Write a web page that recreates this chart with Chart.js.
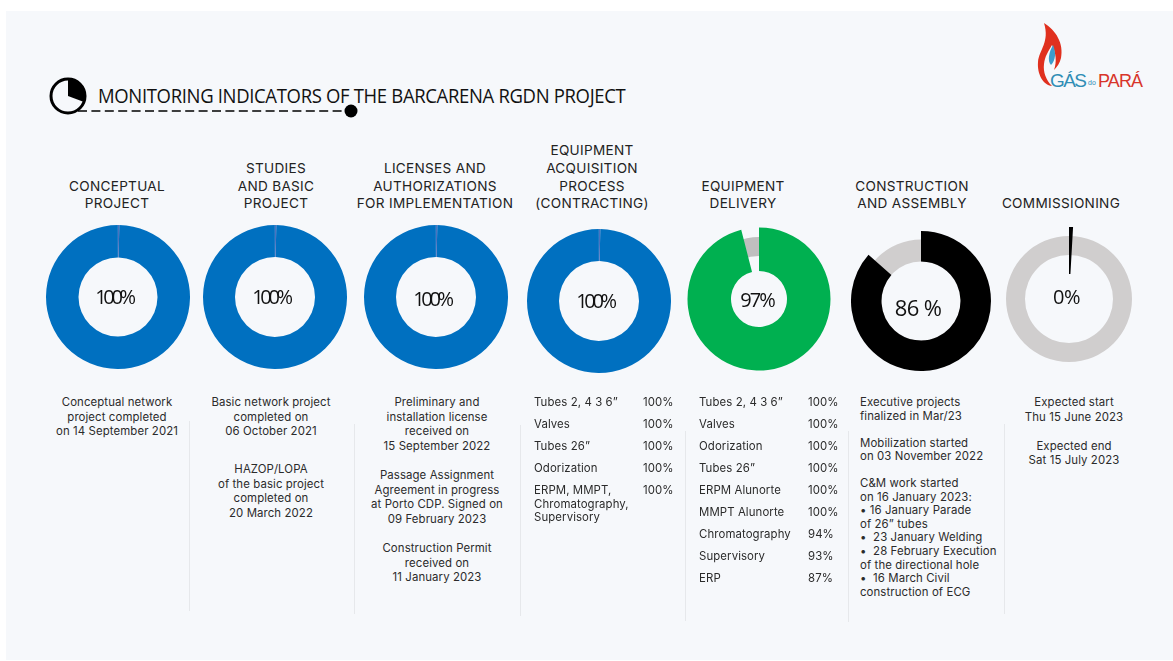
<!DOCTYPE html>
<html>
<head>
<meta charset="utf-8">
<title>Monitoring indicators</title>
<script src="https://cdn.jsdelivr.net/npm/chart.js@4"></script>
<style>
  html, body { margin: 0; padding: 0; background: #fff; }
  #page { position: relative; width: 1173px; height: 661px; overflow: hidden; }
  #panel { position: absolute; left: 6px; top: 11px; width: 1167px; height: 649px; background: #f6f8fb; }
  #page canvas { position: absolute; }
  .title { position: absolute; left: 98px; top: 83px; font: 19.5px/26px "Open Sans", sans-serif; color: #111; white-space: nowrap; letter-spacing: -0.35px; transform: scaleX(0.948); transform-origin: left center; }
  .head { position: absolute; width: 200px; bottom: 448px; text-align: center; font: 13.6px/17.7px Inter, sans-serif; letter-spacing: 0.3px; color: #222; white-space: pre; }
  .pct { position: absolute; width: 80px; text-align: center; font-family: "Open Sans", sans-serif; color: #111; white-space: nowrap; }
  .note { position: absolute; font: 11.4px/14.6px Inter, sans-serif; letter-spacing: 0.1px; color: #2b2b2b; white-space: pre; }
  .note.center { width: 200px; text-align: center; }
  .row { position: absolute; font: 11.4px/13.6px Inter, sans-serif; letter-spacing: 0.1px; color: #2b2b2b; white-space: pre; }
  .rule { position: absolute; width: 1px; background: #e6e8eb; }
  svg { position: absolute; overflow: visible; }
</style>
</head>
<body>
<div id="page">
  <div id="panel"></div>
  <svg style="left:0;top:0" width="1173" height="661">
    <!-- title icon -->
    <circle cx="68" cy="96" r="17" fill="none" stroke="#000" stroke-width="3"/>
    <path d="M68 79 A17 17 0 0 1 84 102 L68 96 Z" fill="#000"/>
    <line x1="78" y1="111" x2="347" y2="111" stroke="#000" stroke-width="1.4" stroke-dasharray="9 4.4"/>
    <circle cx="351" cy="111" r="6.5" fill="#000"/>
    <!-- logo -->
    <path d="M1044 23 C1056 30 1064 44 1061 58 C1060 63 1057 67 1054 70 C1057 62 1056 53 1052 45 C1048 52 1045 56 1044 64 C1043 72 1046 80 1052 86 C1043 85 1037 74 1038 62 C1039 50 1050 42 1044 23 Z" fill="#e0301e"/>
    <path d="M1053 45 C1056 52 1056 60 1051 65 C1047 61 1049 52 1053 45 Z" fill="#3d9ccb"/>
    <text x="1050" y="87" font-family="Liberation Sans" font-size="19" fill="#2f8db5" textLength="37">GÁS</text>
    <text x="1088" y="85" font-family="Liberation Sans" font-size="7" fill="#2f8db5">do</text>
    <text x="1098" y="87" font-family="Liberation Sans" font-size="18" fill="#d8352a" textLength="45">PARÁ</text>
  </svg>
  <div class="title">MONITORING INDICATORS OF THE BARCARENA RGDN PROJECT</div>
</div>
<script>
// Stage names above each ring
const categories = [
  "CONCEPTUAL\nPROJECT",
  "STUDIES\nAND BASIC\nPROJECT",
  "LICENSES AND\nAUTHORIZATIONS\nFOR IMPLEMENTATION",
  "EQUIPMENT\nACQUISITION\nPROCESS\n(CONTRACTING)",
  "EQUIPMENT\nDELIVERY",
  "CONSTRUCTION\nAND ASSEMBLY",
  "COMMISSIONING",
];
const percentLabels = ["100%", "100%", "100%", "100%", "97%", "86 %", "0%"];

// Arc sizes as drawn in the picture (the 100% rings have a thin seam at the top)
const doneValues = [99.7, 99.7, 99.7, 99.7, 96, 86.5, 0.9];
const restValues = [0.3, 0.3, 0.3, 0.3, 4, 13.5, 99.1];

const notesConceptual = "Conceptual network\nproject completed\non 14 September 2021";
const notesBasic = "Basic network project\ncompleted on\n06 October 2021";
const notesHazop = "HAZOP/LOPA\nof the basic project\ncompleted on\n20 March 2022";
const notesLicenses = "Preliminary and\ninstallation license\nreceived on\n15 September 2022\n\nPassage Assignment\nAgreement in progress\nat Porto CDP. Signed on\n09 February 2023\n\nConstruction Permit\nreceived on\n11 January 2023";
const notesConstruction = "Executive projects\nfinalized in Mar/23\n\nMobilization started\non 03 November 2022\n\nC&M work started\non 16 January 2023:\n• 16 January Parade\nof 26” tubes\n•  23 January Welding\n•  28 February Execution\nof the directional hole\n•  16 March Civil\nconstruction of ECG";
const notesCommissioning = "Expected start\nThu 15 June 2023\n\nExpected end\nSat 15 July 2023";

const acquisitionItems = ["Tubes 2, 4 3 6”", "Valves", "Tubes 26”", "Odorization", "ERPM, MMPT,\nChromatography,\nSupervisory"];
const acquisitionValues = ["100%", "100%", "100%", "100%", "100%"];
const deliveryItems = ["Tubes 2, 4 3 6”", "Valves", "Odorization", "Tubes 26”", "ERPM Alunorte", "MMPT Alunorte", "Chromatography", "Supervisory", "ERP"];
const deliveryValues = ["100%", "100%", "100%", "100%", "100%", "100%", "94%", "93%", "87%"];

document.addEventListener("DOMContentLoaded", function () {
  const page = document.getElementById("page");

  // Layout, one entry per ring
  const centers = [[118, 297], [275, 297], [436, 297], [599, 301], [758.5, 299], [920.5, 301], [1069, 299]];
  const radii = [[72, 39.5], [72, 40], [72, 40], [72, 40], [71.5, 28], [70, 39.5], [72, 25]];
  const rotations = [1, 1, 1, 1, 0, 0, 0];
  const doneColors = ["#0070c0", "#0070c0", "#0070c0", "#0070c0", "#00b050", "#000000", "#000000"];
  const restColors = ["#4a72bf", "#4a72bf", "#4a72bf", "#4a72bf", "rgba(0,0,0,0)", "rgba(0,0,0,0)", "rgba(0,0,0,0)"];
  // Grey track that sits under rings 5, 6 and 7
  const tracks = { 4: [62, 43, "#bfbfbf"], 5: [61.5, 39.5, "#d0cece"], 6: [63, 44, "#d0cece"] };
  const headCenters = [117, 276, 435, 592, 743, 912, 1061];
  const pctSpots = [[114, 297, 20, -3.3], [271, 297, 20, -3.3], [432, 299, 20, -3.3], [595, 301, 20, -3.3], [757, 300, 20, -2], [918, 307, 22, -0.6], [1066.5, 297, 20, -0.5]];

  function makeRing(cx, cy, outer, inner, values, colors, rotation) {
    const canvas = document.createElement("canvas");
    const size = Math.ceil(outer) * 2;
    canvas.width = size;
    canvas.height = size;
    canvas.style.width = size + "px";
    canvas.style.height = size + "px";
    canvas.style.left = cx - size / 2 + "px";
    canvas.style.top = cy - size / 2 + "px";
    page.appendChild(canvas);
    new Chart(canvas.getContext("2d"), {
      type: "doughnut",
      data: {
        datasets: [{ data: values, backgroundColor: colors, borderWidth: 0 }],
      },
      options: {
        responsive: false,
        animation: false,
        rotation: rotation,
        radius: outer,
        cutout: (inner / outer) * 100 + "%",
        plugins: { legend: { display: false }, tooltip: { enabled: false } },
      },
    });
  }

  categories.forEach(function (name, i) {
    const c = centers[i];
    if (tracks[i]) makeRing(c[0], c[1], tracks[i][0], tracks[i][1], [100], [tracks[i][2]], 0);
    makeRing(c[0], c[1], radii[i][0], radii[i][1], [doneValues[i], restValues[i]], [doneColors[i], restColors[i]], rotations[i]);

    const head = document.createElement("div");
    head.className = "head";
    head.textContent = name;
    head.style.left = headCenters[i] - 100 + "px";
    page.appendChild(head);

    const spot = pctSpots[i];
    const pct = document.createElement("div");
    pct.className = "pct";
    pct.textContent = percentLabels[i];
    pct.style.left = spot[0] - 40 + "px";
    pct.style.top = spot[1] - 15 + "px";
    pct.style.fontSize = spot[2] + "px";
    pct.style.lineHeight = "30px";
    pct.style.letterSpacing = spot[3] + "px";
    page.appendChild(pct);
  });

  function addNote(text, x, top, centered, lineHeight) {
    const el = document.createElement("div");
    el.className = centered ? "note center" : "note";
    el.textContent = text;
    el.style.left = (centered ? x - 100 : x) + "px";
    el.style.top = top + "px";
    if (lineHeight) el.style.lineHeight = lineHeight + "px";
    page.appendChild(el);
  }
  addNote(notesConceptual, 117, 395, true);
  addNote(notesBasic, 271, 395, true);
  addNote(notesHazop, 271, 462, true);
  addNote(notesLicenses, 437, 395, true);
  addNote(notesConstruction, 860, 396, false, 13.55);
  addNote(notesCommissioning, 1074, 395, true);

  function addRows(items, values, nameX, valueX) {
    items.forEach(function (item, i) {
      [[item, nameX], [values[i], valueX]].forEach(function (cell) {
        const el = document.createElement("div");
        el.className = "row";
        el.textContent = cell[0];
        el.style.left = cell[1] + "px";
        el.style.top = 396 + i * 22 + "px";
        page.appendChild(el);
      });
    });
  }
  addRows(acquisitionItems, acquisitionValues, 534, 643);
  addRows(deliveryItems, deliveryValues, 699, 808);

  // Vertical dividers between the columns: x, top, bottom
  [[189, 421, 611], [354, 424, 614], [520, 425, 616], [685, 431, 621], [848, 431, 622], [1004, 424, 614]].forEach(function (r) {
    const el = document.createElement("div");
    el.className = "rule";
    el.style.left = r[0] + "px";
    el.style.top = r[1] + "px";
    el.style.height = r[2] - r[1] + "px";
    page.appendChild(el);
  });
});
</script>
</body>
</html>
